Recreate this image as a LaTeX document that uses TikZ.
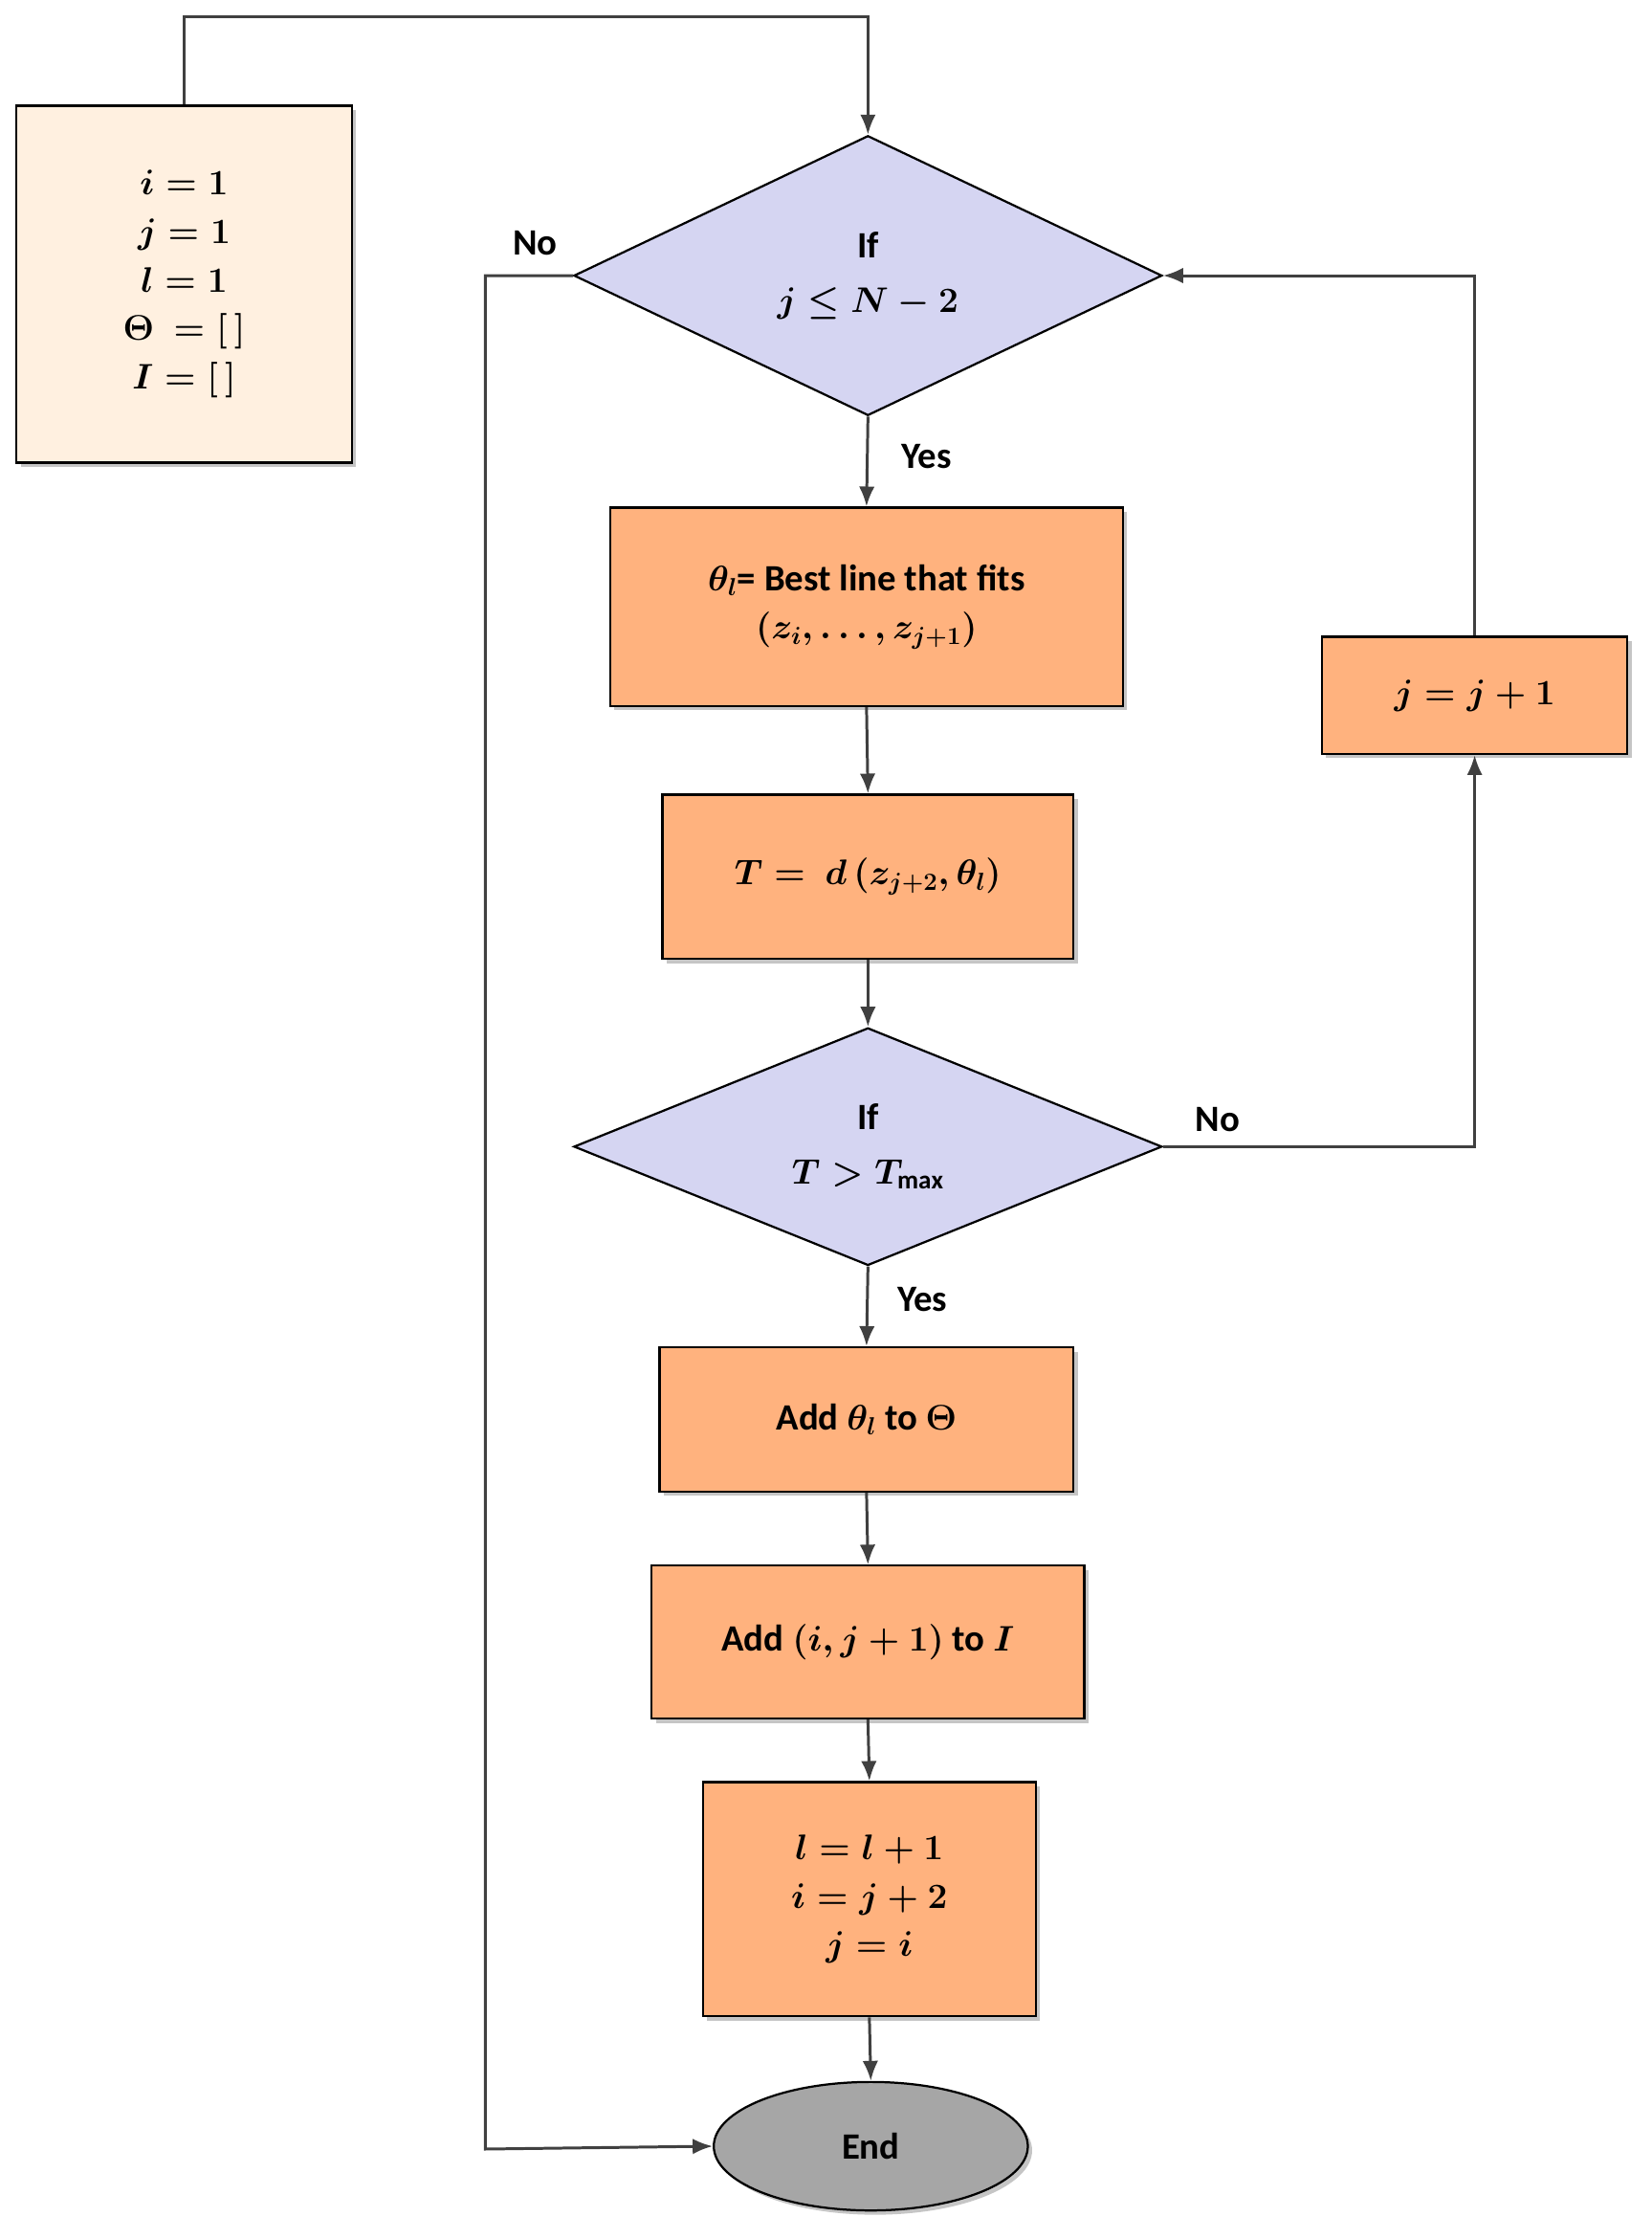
\documentclass[tikz,border=0pt]{standalone}
\usepackage{fontspec}
\setmainfont{Carlito}
\usetikzlibrary{shapes.geometric,shadows,arrows.meta}
\begin{document}
\begin{tikzpicture}[x=1pt,y=-1pt,
 font=\fontsize{26}{34}\selectfont\bfseries\boldmath,
 box/.style={draw=black,line width=1.5pt,fill=#1,align=center,inner sep=0,
   drop shadow={shadow xshift=3pt,shadow yshift=-3pt,fill=black!45}},
 box/.default={orange!45!white!90!red},
 dia/.style={diamond,draw=black,line width=1.5pt,fill=blue!12!white!95!black,align=center,inner sep=0},
 ln/.style={line width=2pt,draw=black!75},
 arr/.style={ln,-{Latex[length=14pt,width=11pt]}},
 lbl/.style={font=\fontsize{26}{30}\selectfont\bfseries}]
\useasboundingbox (0,0) rectangle (1157,1568);
\colorlet{pk}{orange!45!white!90!red}
\node[box=orange!12!white,minimum width=235pt,minimum height=250pt] (init) at (129,199)
 {$i = 1$\\$j = 1$\\$l = 1$\\$\Theta\ = [\,]$\\$I = [\,]$};
\node[dia,minimum width=412pt,minimum height=196pt] (d1) at (608,193) {If\\[4pt]$j \le N-2$};
\node[box,minimum width=359pt,minimum height=139pt] (b1) at (607,425)
 {$\theta_l$= Best line that fits\\$\left(z_i,\ldots,z_{j+1}\right)$};
\node[box,minimum width=288pt,minimum height=115pt] (b2) at (608,614)
 {$T=\ d\left(z_{j+2},\theta_l\right)$};
\node[dia,minimum width=412pt,minimum height=166pt] (d2) at (608,803) {If\\[4pt]$T > T_{\max}$};
\node[box,minimum width=214pt,minimum height=82pt] (bj) at (1033,487) {$j = j+1$};
\node[box,minimum width=290pt,minimum height=101pt] (b3) at (607,994) {Add $\theta_l$ to $\Theta$};
\node[box,minimum width=303pt,minimum height=107pt] (b4) at (608,1150) {Add $(i,j+1)$ to $I$};
\node[box,minimum width=233pt,minimum height=164pt] (b5) at (609,1330)
 {$l = l+1$\\$i = j+2$\\$j = i$};
\node[ellipse,draw=black,line width=1.5pt,fill=black!35,minimum width=220pt,minimum height=90pt,
 drop shadow={shadow xshift=3pt,shadow yshift=-3pt,fill=black!45}] (end) at (610,1503) {End};
\coordinate (t1) at (129,12); \coordinate (t2) at (608,12);
\draw[arr] (init.north) |- (t2) -- (d1.north);
\coordinate (n1) at (340,193); \coordinate (n2) at (340,1505);
\draw[arr] (d1.west) -- (n1) -- (n2) -- (end.west);
\draw[arr] (d1.south) -- (b1.north);
\draw[arr] (b1.south) -- (b2.north);
\draw[arr] (b2.south) -- (d2.north);
\draw[arr] (d2.south) -- (b3.north);
\draw[arr] (b3.south) -- (b4.north);
\draw[arr] (b4.south) -- (b5.north);
\draw[arr] (b5.south) -- (end.north);
\draw[arr] (d2.east) -| (bj.south);
\draw[arr] (bj.north) |- (d1.east);
\node[lbl] at (375,170) {No};
\node[lbl] at (649,320) {Yes};
\node[lbl] at (853,784) {No};
\node[lbl] at (646,910) {Yes};
\end{tikzpicture}
\end{document}
